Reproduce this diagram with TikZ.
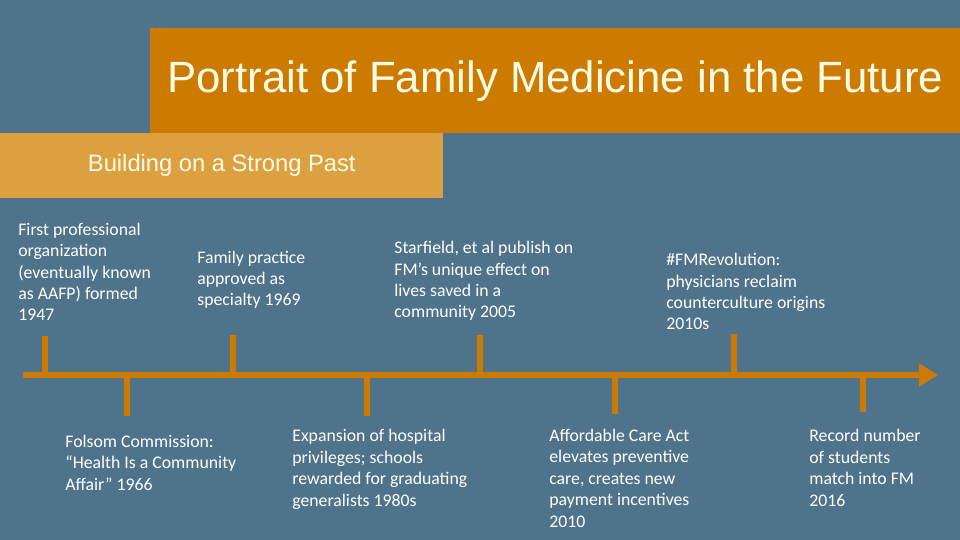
\documentclass[tikz,border=0pt]{standalone}
\usepackage{fontspec}
\setmainfont{Carlito}
\newfontfamily\headfont{Liberation Sans}
\definecolor{slate}{RGB}{79, 115, 138}
\definecolor{amber}{RGB}{204, 122, 0}
\definecolor{sand}{RGB}{221, 160, 64}
\definecolor{cream}{RGB}{255, 252, 230}
\usetikzlibrary{arrows.meta, positioning, calc}
\tikzset{
    bar/.style={
        rectangle, fill=#1, inner sep=0pt, anchor=north west,
        text=cream, align=center
    },
    event/.style={
        inner sep=0pt, anchor=base west, align=left, text=white,
        font=\fontsize{10.1}{12.2}\selectfont
    },
    timeline/.style={draw=amber, line width=3.4pt, -{Triangle[length=0.38cm, width=0.44cm]}},
    tickmark/.style={draw=amber, line width=3.4pt}
}

\begin{document}
\begin{tikzpicture}[x=0.02cm, y=-0.02cm]

    % Background
    \fill[slate] (0,0) rectangle (960,540);
    \useasboundingbox (0,0) rectangle (960,540);

    % Header bars
    \node[bar=amber, minimum width=16.2cm, minimum height=2.1cm,
          font=\headfont\fontsize{24.9}{30}\selectfont] (title) at (150,28)
          {Portrait of Family Medicine in the Future};
    \node[bar=sand, minimum width=8.86cm, minimum height=1.3cm,
          font=\headfont\fontsize{13.5}{16}\selectfont] (subtitle) at (0,133)
          {Building on a Strong Past};

    % Timeline
    \coordinate (tl-start) at (23,375);
    \coordinate (tl-end) at (938,375);
    \draw[timeline] (tl-start) -- (tl-end);

    % Tick marks above and below
    \foreach \x/\y [count=\i] in {45/336, 127/416, 233/335, 367/416, 480/335, 615/414, 734/334, 863/412} {
        \coordinate (tick\i) at (\x,375);
        \coordinate (tick\i-end) at (\x,\y);
        \draw[tickmark] (tick\i) -- (tick\i-end);
    }

    % Events above the line (placed at the baseline of their last line)
    \node[event] (ev1947) at (18,321)
        {First professional\\organization\\(eventually known\\as AAFP) formed\\1947};
    \node[event] (ev1969) at (197,306)
        {Family practice\\approved as\\specialty 1969};
    \node[event] (ev2005) at (394,318)
        {Starfield, et al publish on\\FM’s unique effect on\\lives saved in a\\community 2005};
    \node[event] (ev2010s) at (666,330)
        {\#FMRevolution:\\physicians reclaim\\counterculture origins\\2010s};

    % Events below the line
    \node[event] (ev1966) at (65,490)
        {Folsom Commission:\\“Health Is a Community\\Affair” 1966};
    \node[event] (ev1980s) at (292,506)
        {Expansion of hospital\\privileges; schools\\rewarded for graduating\\generalists 1980s};
    \node[event] (ev2010) at (549,527)
        {Affordable Care Act\\elevates preventive\\care, creates new\\payment incentives\\2010};
    \node[event] (ev2016) at (809,506)
        {Record number\\of students\\match into FM\\2016};

\end{tikzpicture}
\end{document}
